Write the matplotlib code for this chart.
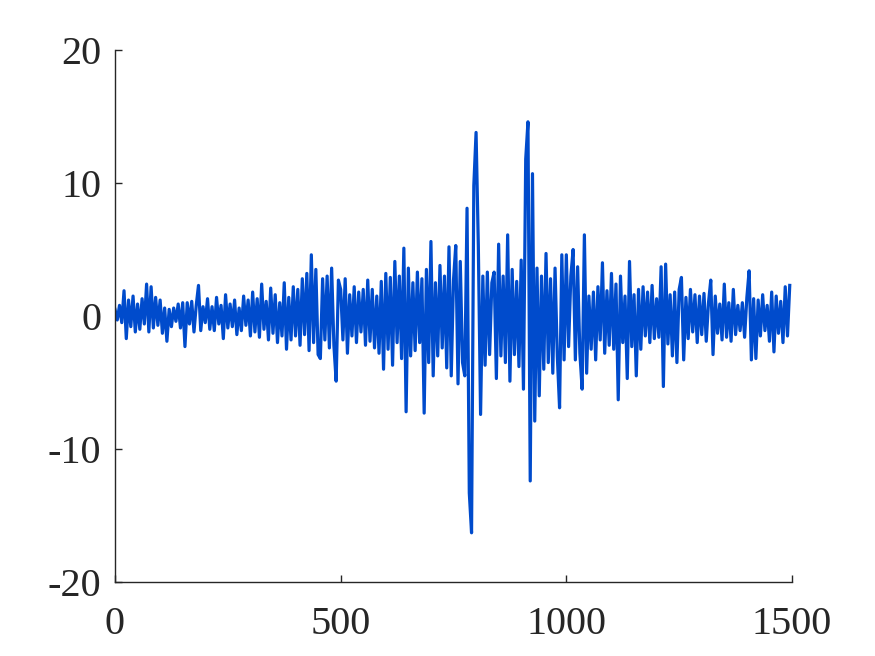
import matplotlib
matplotlib.use("Agg")
import matplotlib.pyplot as plt
import numpy as np

# hand-read signal values, one every 5 samples
step = 5
seg_0000 = [0.5, -0.3, 0.8, -0.5, 1.9, -1.7, 1.2, -0.8, 1.5, -1.2,
            0.9, -1.0, 1.3, -0.6, 2.4, -1.2, 2.2, -0.9, 1.4, -0.7]
seg_0100 = [1.2, -1.3, 0.6, -1.9, 0.5, -0.8, 0.6, -0.4, 0.9, -0.9,
            1.0, -2.3, 1.0, -0.6, 1.1, -1.2, 0.8, 2.3, -1.1, 0.7]
seg_0200 = [-0.5, 1.3, -1.0, 0.7, -1.1, 1.4, -0.6, 0.8, -1.7, 1.6,
            -0.9, 0.9, -0.8, 1.2, -1.4, 0.6, -1.1, 1.5, -0.7, 1.2]
seg_0300 = [-1.5, 1.8, -1.2, 1.3, -1.6, 2.4, -1.0, 1.1, -1.8, 2.1,
            -1.3, 1.6, -2.0, 1.0, -1.5, 2.5, -2.5, 1.4, -1.8, 2.2]
seg_0400 = [-1.5, 2.0, -2.2, 2.8, -1.4, 3.2, -2.6, 4.6, -2.0, 3.5,
            -2.9, -3.2, 2.8, -1.8, 3.0, -2.4, 3.6, -2.2, -4.9, 2.7]
seg_0500 = [2.0, -1.8, 2.8, -2.8, 1.6, -1.5, 2.2, -2.0, 1.8, -1.2,
            2.0, -2.2, 2.7, -1.9, 2.0, -2.4, 1.5, -2.8, 2.6, -4.0]
seg_0600 = [3.2, -2.5, 2.9, -3.7, 4.1, -2.0, 3.0, -3.2, 5.1, -7.2,
            3.6, -3.0, 2.5, -2.6, 3.3, -2.0, 2.8, -7.3, 3.5, -3.5]
seg_0700 = [5.6, -4.5, 2.5, -3.0, 3.8, -2.4, 3.0, -3.9, 5.2, -4.5,
            2.7, 5.3, -5.1, 4.1, -3.5, -4.5, 8.1, -13.3, -16.3, 9.8]
seg_0800 = [13.8, 5.3, -7.4, 3.0, -3.7, 3.3, -2.9, 2.5, 3.3, -4.7,
            5.4, -3.0, 3.0, -3.5, 6.1, -4.9, 3.5, -2.9, 2.6, -3.8]
seg_0900 = [4.2, -5.5, 11.8, 14.6, -12.4, 10.7, -7.9, 3.6, -6.0, 3.0,
            -4.0, 4.7, -3.5, 2.8, -4.3, 3.6, -3.0, -6.9, 4.6, -3.3]
seg_1000 = [4.6, -2.3, 3.0, 5.0, -3.3, 3.7, -2.8, -5.5, 6.1, -4.3,
            1.5, -2.5, 1.8, -3.3, 2.2, -1.8, 4.0, -2.8, 1.9, -2.2]
seg_1100 = [3.2, -2.5, 2.4, -6.3, 3.0, -2.0, 1.5, -4.7, 4.1, -2.3,
            1.6, -4.5, 2.0, -2.5, 2.2, -1.5, 1.8, -2.0, 2.3, -1.7]
seg_1200 = [1.3, -1.6, 3.7, -5.3, 3.9, -2.1, 1.6, -3.0, 1.8, -3.5,
            2.0, 2.9, -3.3, 1.4, -1.7, 2.0, -1.2, 1.6, -2.0, 1.5]
seg_1300 = [-1.4, 1.7, -1.9, 1.0, 2.7, -2.9, 1.5, -1.3, 0.9, -1.8,
            2.4, -1.6, 1.0, -1.9, 2.0, -1.4, 0.8, -1.1, 1.0, -1.6]
seg_1400 = [1.4, 3.4, -3.3, 1.3, -3.2, 1.2, -1.5, 1.6, -1.1, 0.8,
            -1.9, 1.8, -2.7, 1.5, -1.3, 1.1, -2.0, 2.2, -1.5, 2.3]

signal = np.array(seg_0000 + seg_0100 + seg_0200 + seg_0300 + seg_0400
                  + seg_0500 + seg_0600 + seg_0700 + seg_0800 + seg_0900
                  + seg_1000 + seg_1100 + seg_1200 + seg_1300 + seg_1400)
samples = np.arange(len(signal)) * step

plt.rcParams["font.family"] = ["Liberation Serif", "DejaVu Serif"]

fig = plt.figure(figsize=(8.75, 6.56), dpi=100)
ax = fig.add_axes([115 / 875, 1 - 582 / 656, (792 - 115) / 875, (582 - 50) / 656])

ax.plot(samples, signal, color="#004BCC", linewidth=2.3)

ax.set_xlim(0, 1500)
ax.set_ylim(-20, 20)
ax.set_xticks([0, 500, 1000, 1500])
ax.set_yticks([-20, -10, 0, 10, 20])
ax.set_yticklabels(["-20", "-10", "0", "10", "20"])
ax.tick_params(direction="in", length=5, width=1, labelsize=29, colors="#262626")
ax.tick_params(axis="y", pad=10)
ax.tick_params(axis="x", pad=17)
ax.spines["top"].set_visible(False)
ax.spines["right"].set_visible(False)
for s in ["left", "bottom"]:
    ax.spines[s].set_color("#262626")
    ax.spines[s].set_linewidth(1)

fig.savefig("out.png", dpi=100)
